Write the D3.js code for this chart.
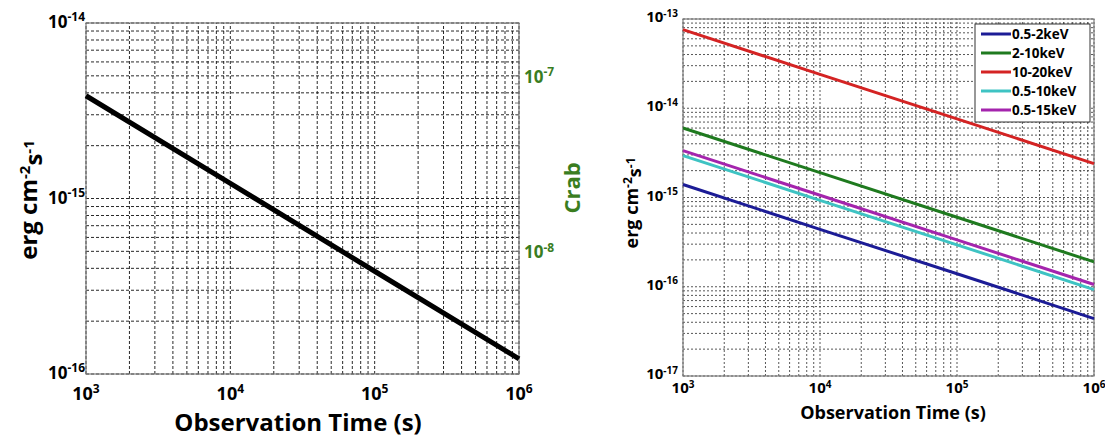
<!DOCTYPE html>
<html>
<head>
<meta charset="utf-8">
<script src="https://cdn.jsdelivr.net/npm/d3@7"></script>
<style>
  body { margin: 0; background: #fff; }
  text { font-family: "Open Sans", sans-serif; font-weight: bold; }
</style>
</head>
<body>
<div id="vis"></div>
<script>
const FRAME_WIDTH = 1105;
const FRAME_HEIGHT = 441;

// observation times (s)
const times = [1e3, 1e4, 1e5, 1e6];

// left panel: sensitivity (erg cm-2 s-1)
const sensitivity = [3.85e-15, 1.22e-15, 3.85e-16, 1.22e-16];

// right panel: bands
const bandNames = ['0.5-2keV', '2-10keV', '10-20keV', '0.5-10keV', '0.5-15keV'];
const bandColors = ['#1c1c96', '#1f7a1f', '#d42323', '#3ec3c3', '#a424ad'];
const band_05_2 = [1.40e-15, 4.40e-16, 1.40e-16, 4.40e-17];
const band_2_10 = [6.00e-15, 1.90e-15, 6.00e-16, 1.90e-16];
const band_10_20 = [7.60e-14, 2.40e-14, 7.60e-15, 2.40e-15];
const band_05_10 = [2.95e-15, 9.30e-16, 2.95e-16, 9.30e-17];
const band_05_15 = [3.35e-15, 1.06e-15, 3.35e-16, 1.06e-16];
const bandValues = [band_05_2, band_2_10, band_10_20, band_05_10, band_05_15];

// axis domains / tick labels
const xDomain = [1e3, 1e6];
const xTickExp = [3, 4, 5, 6];
const leftYDomain = [1e-16, 1e-14];
const leftYTickExp = [-16, -15, -14];
const crabDomain = [2e-9, 2e-7];
const crabTickExp = [-8, -7];
const rightYDomain = [1e-17, 1e-13];
const rightYTickExp = [-17, -16, -15, -14, -13];

const CRAB_GREEN = '#3a7d1f';

const svg = d3.select('#vis')
  .append('svg')
    .attr('width', FRAME_WIDTH)
    .attr('height', FRAME_HEIGHT);

svg.append('rect').attr('width', FRAME_WIDTH).attr('height', FRAME_HEIGHT).attr('fill', '#fff');

// power-of-ten label helper
function powLabel(sel, exp, supSize) {
  sel.append('tspan').text('10');
  sel.append('tspan')
    .attr('dy', '-0.55em')
    .attr('font-size', supSize)
    .text(exp);
}

function drawGrid(g, X, Y, dash, color) {
  const [x0, x1] = X.range();
  const [y0, y1] = Y.range();
  g.selectAll('.gx')
    .data(X.ticks())
    .enter()
    .append('line')
      .attr('x1', d => X(d)).attr('x2', d => X(d))
      .attr('y1', y0).attr('y2', y1)
      .attr('stroke', color).attr('stroke-width', 0.9)
      .attr('stroke-dasharray', dash);
  g.selectAll('.gy')
    .data(Y.ticks())
    .enter()
    .append('line')
      .attr('x1', x0).attr('x2', x1)
      .attr('y1', d => Y(d)).attr('y2', d => Y(d))
      .attr('stroke', color).attr('stroke-width', 0.9)
      .attr('stroke-dasharray', dash);
  g.append('rect')
    .attr('x', x0).attr('y', y1)
    .attr('width', x1 - x0).attr('height', y0 - y1)
    .attr('fill', 'none').attr('stroke', '#7a7a7a').attr('stroke-width', 1.2);
}

function titleText(g, x, y, rotate, size, color) {
  const t = g.append('text')
    .attr('transform', 'translate(' + x + ',' + y + ')' + (rotate ? ' rotate(-90)' : ''))
    .attr('text-anchor', 'middle')
    .attr('font-size', size)
    .attr('fill', color);
  return t;
}

// ---------------- left panel ----------------
const L = {left: 86, right: 519, top: 23, bottom: 374};
const X1 = d3.scaleLog().domain(xDomain).range([L.left, L.right]);
const Y1 = d3.scaleLog().domain(leftYDomain).range([L.bottom, L.top]);
const C1 = d3.scaleLog().domain(crabDomain).range([L.bottom, L.top]);

const left = svg.append('g');
drawGrid(left, X1, Y1, '3,2', '#111');

left.append('path')
  .datum(times.map((t, i) => [t, sensitivity[i]]))
  .attr('d', d3.line().x(d => X1(d[0])).y(d => Y1(d[1])))
  .attr('fill', 'none')
  .attr('stroke', '#000')
  .attr('stroke-width', 5);

// crab ticks (inward)
left.selectAll('.ct')
  .data(C1.ticks())
  .enter()
  .append('line')
    .attr('x1', L.right).attr('x2', d => L.right - (crabTickExp.some(e => Math.abs(d - Math.pow(10, e)) < d * 1e-6) ? 7 : 4))
    .attr('y1', d => C1(d)).attr('y2', d => C1(d))
    .attr('stroke', '#7a7a7a').attr('stroke-width', 1);

left.selectAll('.xl')
  .data(xTickExp)
  .enter()
  .append('text')
    .attr('x', d => X1(Math.pow(10, d)))
    .attr('y', 400)
    .attr('text-anchor', 'middle')
    .attr('font-size', 18)
    .each(function(d) { powLabel(d3.select(this), d, 12); });

left.selectAll('.yl')
  .data(leftYTickExp)
  .enter()
  .append('text')
    .attr('x', 85)
    .attr('y', d => Y1(Math.pow(10, d)) + 5)
    .attr('text-anchor', 'end')
    .attr('font-size', 17)
    .each(function(d) { powLabel(d3.select(this), d, 12); });

left.selectAll('.cl')
  .data(crabTickExp)
  .enter()
  .append('text')
    .attr('x', 524)
    .attr('y', d => C1(Math.pow(10, d)) + 7)
    .attr('font-size', 17)
    .attr('fill', CRAB_GREEN)
    .each(function(d) { powLabel(d3.select(this), d, 12); });

titleText(left, 298, 431, false, 24, '#000').text('Observation Time (s)');

const ly = titleText(left, 37, 200, true, 24, '#000');
ly.append('tspan').text('erg cm');
ly.append('tspan').attr('dy', '-0.5em').attr('font-size', 15).text('-2');
ly.append('tspan').attr('dy', '0.5em').text('s');
ly.append('tspan').attr('dy', '-0.5em').attr('font-size', 15).text('-1');

titleText(left, 580, 188, true, 22, CRAB_GREEN).text('Crab');

// ---------------- right panel ----------------
const R = {left: 683, right: 1094, top: 19, bottom: 376};
const X2 = d3.scaleLog().domain(xDomain).range([R.left, R.right]);
const Y2 = d3.scaleLog().domain(rightYDomain).range([R.bottom, R.top]);

const right = svg.append('g');
drawGrid(right, X2, Y2, '2,2', '#444');

const line2 = d3.line().x(d => X2(d[0])).y(d => Y2(d[1]));
right.selectAll('.band')
  .data(bandValues)
  .enter()
  .append('path')
    .attr('d', vals => line2(times.map((t, i) => [t, vals[i]])))
    .attr('fill', 'none')
    .attr('stroke', (d, i) => bandColors[i])
    .attr('stroke-width', 3);

right.selectAll('.xl')
  .data(xTickExp)
  .enter()
  .append('text')
    .attr('x', d => X2(Math.pow(10, d)))
    .attr('y', 393)
    .attr('text-anchor', 'middle')
    .attr('font-size', 15)
    .each(function(d) { powLabel(d3.select(this), d, 10); });

right.selectAll('.yl')
  .data(rightYTickExp)
  .enter()
  .append('text')
    .attr('x', 678)
    .attr('y', d => Y2(Math.pow(10, d)) + 3)
    .attr('text-anchor', 'end')
    .attr('font-size', 15)
    .each(function(d) { powLabel(d3.select(this), d, 10); });

titleText(right, 893, 419, false, 18, '#000').text('Observation Time (s)');

const ry = titleText(right, 638, 203, true, 18, '#000');
ry.append('tspan').text('erg cm');
ry.append('tspan').attr('dy', '-0.5em').attr('font-size', 12).text('-2');
ry.append('tspan').attr('dy', '0.5em').text('s');
ry.append('tspan').attr('dy', '-0.5em').attr('font-size', 12).text('-1');

// legend
const legend = right.append('g');
legend.append('rect')
  .attr('x', 975).attr('y', 24)
  .attr('width', 115).attr('height', 98)
  .attr('fill', '#fff').attr('stroke', '#333').attr('stroke-width', 1);
const rows = legend.selectAll('.row')
  .data(bandNames)
  .enter()
  .append('g')
    .attr('transform', (d, i) => 'translate(0,' + (34 + i * 19) + ')');
rows.append('line')
  .attr('x1', 981).attr('x2', 1011)
  .attr('stroke', (d, i) => bandColors[i])
  .attr('stroke-width', 3);
rows.append('text')
  .attr('x', 1012).attr('y', 5)
  .attr('font-size', 13.5)
  .text(d => d);
</script>
</body>
</html>
